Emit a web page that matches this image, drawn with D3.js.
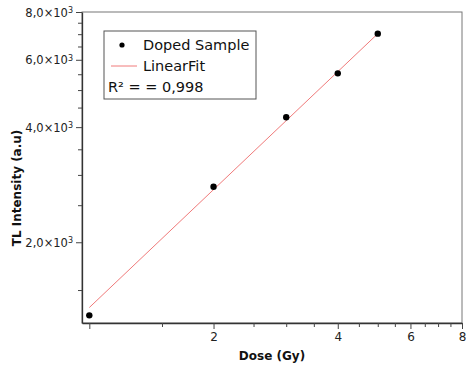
<!DOCTYPE html>
<html>
<head>
<meta charset="utf-8">
<script src="https://cdn.jsdelivr.net/npm/d3@7"></script>
<style>
  body { margin: 0; background: #fff; }
  text { font-family: "DejaVu Sans", Verdana, sans-serif; }
</style>
</head>
<body>
<div id="chart"></div>
<script>
// data
var doses = [1, 2, 3, 4, 5];
var intensities = [1288, 2793, 4247, 5530, 7022];
var fitDoses = [1, 5];
var fitIntensities = [1350, 7020];

var xTicks = [1, 1.5, 2, 2.5, 3, 3.5, 4, 4.5, 5, 5.5, 6, 6.5, 7, 7.5, 8];
var xLabels = [2, 4, 6, 8];
var yTicks = [1500, 2000, 2500, 3000, 3500, 4000, 4500, 5000, 5500, 6000, 6500, 7000, 7500, 8000];
var yLabels = [2000, 4000, 6000, 8000];

var svgWidth = 466;
var svgHeight = 365;

var margin = { top: 12, right: 4, bottom: 42, left: 82 };
var width = svgWidth - margin.left - margin.right;
var height = svgHeight - margin.top - margin.bottom;

var svg = d3.select("#chart")
  .append("svg")
  .attr("width", svgWidth)
  .attr("height", svgHeight);

var chartGroup = svg.append("g")
  .attr("transform", `translate(${margin.left}, ${margin.top})`);

var x = d3.scaleLog()
  .domain([0.96, 8])
  .range([0, width]);

var y = d3.scaleLog()
  .domain([1230, 8000])
  .range([height, 0]);

// frame
chartGroup.append("rect")
  .attr("width", width)
  .attr("height", height)
  .attr("fill", "none")
  .attr("stroke", "#777")
  .attr("stroke-width", 1);

// x axis
var bottomAxis = d3.axisBottom(x)
  .tickValues(xTicks)
  .tickSize(4)
  .tickSizeOuter(0)
  .tickFormat(d => xLabels.includes(d) ? d : "");

var xAxis = chartGroup.append("g")
  .attr("transform", `translate(0, ${height})`)
  .call(bottomAxis);
xAxis.selectAll(".tick line")
  .attr("y2", d => (xLabels.includes(d) || d === 1) ? 6 : 4);

// y axis
var leftAxis = d3.axisLeft(y)
  .tickValues(yTicks)
  .tickSize(4)
  .tickSizeOuter(0)
  .tickFormat("");

var yAxis = chartGroup.append("g")
  .call(leftAxis);
yAxis.selectAll(".tick line")
  .attr("x2", d => yLabels.includes(d) ? -6 : -4);

yAxis.selectAll(".tick")
  .filter(d => yLabels.includes(d))
  .append("text")
  .attr("x", -9)
  .attr("dy", "0.35em")
  .attr("text-anchor", "end")
  .attr("fill", "#222")
  .style("font-size", "11.5px")
  .each(function (d) {
    var t = d3.select(this);
    t.append("tspan").text((d / 1000).toFixed(1).replace(".", ",") + "×10");
    t.append("tspan").attr("dy", "-0.45em").style("font-size", "8px").text("3");
  });

[xAxis, yAxis].forEach(function (ax) {
  ax.select(".domain").attr("stroke", "#333").attr("stroke-width", 1.3);
  ax.selectAll(".tick line").attr("stroke", "#444");
});
xAxis.selectAll(".tick text")
  .attr("fill", "#222")
  .style("font-size", "12px")
  .attr("dy", "0.9em");

// fit line
var line = d3.line()
  .x(d => x(d[0]))
  .y(d => y(d[1]));

chartGroup.append("path")
  .datum(fitDoses.map((d, i) => [d, fitIntensities[i]]))
  .attr("d", line)
  .attr("fill", "none")
  .attr("stroke", "#f07a7a")
  .attr("stroke-width", 1);

// points
chartGroup.selectAll("circle")
  .data(doses)
  .enter()
  .append("circle")
  .attr("cx", d => x(d))
  .attr("cy", (d, i) => y(intensities[i]))
  .attr("r", 3.2)
  .attr("fill", "#000");

// axis titles
chartGroup.append("text")
  .attr("transform", `translate(${width / 2}, ${height + 37})`)
  .attr("text-anchor", "middle")
  .style("font-size", "12px")
  .style("font-weight", "bold")
  .attr("fill", "#111")
  .text("Dose (Gy)");

chartGroup.append("text")
  .attr("transform", "rotate(-90)")
  .attr("y", -margin.left + 21)
  .attr("x", -(176))
  .attr("text-anchor", "middle")
  .style("font-size", "12px")
  .style("font-weight", "bold")
  .attr("fill", "#111")
  .text("TL Intensity (a.u)");

// legend
var legend = svg.append("g")
  .attr("transform", "translate(104, 31)");

legend.append("rect")
  .attr("width", 152)
  .attr("height", 68)
  .attr("fill", "#fff")
  .attr("stroke", "#555")
  .attr("stroke-width", 1);

legend.append("circle")
  .attr("cx", 18)
  .attr("cy", 14)
  .attr("r", 2.6)
  .attr("fill", "#000");

legend.append("line")
  .attr("x1", 7)
  .attr("x2", 33)
  .attr("y1", 35)
  .attr("y2", 35)
  .attr("stroke", "#f07a7a")
  .attr("stroke-width", 1);

var legendTexts = ["Doped Sample", "LinearFit"];
legend.selectAll(".leg")
  .data(legendTexts)
  .enter()
  .append("text")
  .attr("x", 39)
  .attr("y", (d, i) => 19 + i * 21)
  .style("font-size", "14.5px")
  .attr("fill", "#111")
  .text(d => d);

legend.append("text")
  .attr("x", 4)
  .attr("y", 61)
  .style("font-size", "14.5px")
  .attr("fill", "#111")
  .text("R² = = 0,998");
</script>
</body>
</html>
